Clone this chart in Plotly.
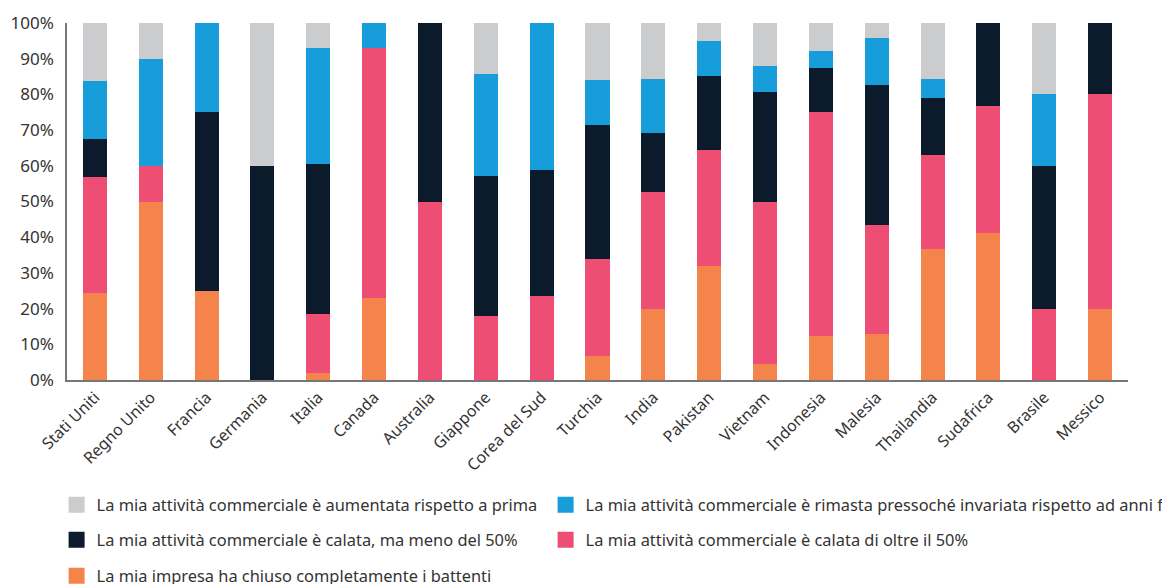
import plotly.graph_objects as go

countries = ["Stati Uniti", "Regno Unito", "Francia", "Germania", "Italia", "Canada",
             "Australia", "Giappone", "Corea del Sud", "Turchia", "India", "Pakistan",
             "Vietnam", "Indonesia", "Malesia", "Thailandia", "Sudafrica", "Brasile", "Messico"]

chiuso = [24.4, 50, 25, 0, 2, 23, 0, 0, 0, 6.7, 20, 32, 4.5, 12.3, 12.9, 36.7, 41.2, 0, 20]
calata_oltre = [32.5, 10, 0, 0, 16.5, 70, 50, 17.9, 23.5, 27.2, 32.7, 32.4, 45.5, 62.8, 30.5, 26.3, 35.6, 20, 60]
calata_meno = [10.6, 0, 50, 60, 42, 0, 50, 39.2, 35.3, 37.5, 16.5, 20.8, 30.7, 12.3, 39.2, 16, 23.2, 40, 20]
invariata = [16.3, 30, 25, 0, 32.5, 7, 0, 28.6, 41.2, 12.6, 15.1, 9.8, 7.3, 4.8, 13.2, 5.3, 0, 20, 0]
aumentata = [16.2, 10, 0, 40, 7, 0, 0, 14.3, 0, 16, 15.7, 5, 12, 7.8, 4.2, 15.7, 0, 20, 0]

names = {
    "aumentata": "La mia attività commerciale è aumentata rispetto a prima",
    "invariata": "La mia attività commerciale è rimasta pressoché invariata rispetto ad anni fa",
    "calata_meno": "La mia attività commerciale è calata, ma meno del 50%",
    "calata_oltre": "La mia attività commerciale è calata di oltre il 50%",
    "chiuso": "La mia impresa ha chiuso completamente i battenti",
}
colors = {
    "chiuso": "#F5844C",
    "calata_oltre": "#EF4E74",
    "calata_meno": "#0B1B2B",
    "invariata": "#179DD9",
    "aumentata": "#CBCCCE",
}
series = [("chiuso", chiuso), ("calata_oltre", calata_oltre), ("calata_meno", calata_meno),
          ("invariata", invariata), ("aumentata", aumentata)]

FONT = "Noto Sans"
W, H = 1162, 576

fig = go.Figure()
for key, vals in series:
    fig.add_trace(go.Bar(x=countries, y=vals, name=names[key], marker_color=colors[key],
                         marker_line_width=0, showlegend=False))

# legend placement: (legend id, column x in px, row centre y in px)
legend_pos = {
    "aumentata": ("legend", 48.6, 497),
    "invariata": ("legend2", 537.6, 497),
    "calata_meno": ("legend3", 48.6, 532),
    "calata_oltre": ("legend4", 537.6, 532),
    "chiuso": ("legend5", 48.6, 568),
}
legend_layout = {}
for key in ["aumentata", "invariata", "calata_meno", "calata_oltre", "chiuso"]:
    lid, lx, ly = legend_pos[key]
    fig.add_trace(go.Scatter(x=[None], y=[None], mode="markers", name=names[key],
                             marker=dict(symbol="square", size=16, color=colors[key]),
                             legend=lid, showlegend=True))
    legend_layout[lid] = dict(orientation="h", xref="container", yref="container",
                              x=lx / W, y=1 - ly / H, xanchor="left", yanchor="middle",
                              font=dict(family=FONT, size=16.4, color="#333333"),
                              bgcolor="rgba(0,0,0,0)")

fig.update_layout(
    width=W, height=H,
    barmode="stack", bargap=0.57,
    plot_bgcolor="white", paper_bgcolor="white",
    margin=dict(l=59, r=42, t=15, b=204, autoexpand=False),
    font=dict(family=FONT, size=16, color="#333333"),
    xaxis=dict(showline=True, linecolor="#777777", linewidth=1.5, tickangle=-45,
               ticks="", showgrid=False, automargin=False,
               tickfont=dict(family=FONT, size=16, color="#333333")),
    yaxis=dict(range=[0, 100], dtick=10, ticksuffix="%", showline=True, linecolor="#777777",
               linewidth=1.5, showgrid=False, zeroline=False, ticks="", ticklabelstandoff=8,
               automargin=False, tickfont=dict(family=FONT, size=17, color="#333333")),
    **legend_layout,
)

fig.write_html("out.html")
